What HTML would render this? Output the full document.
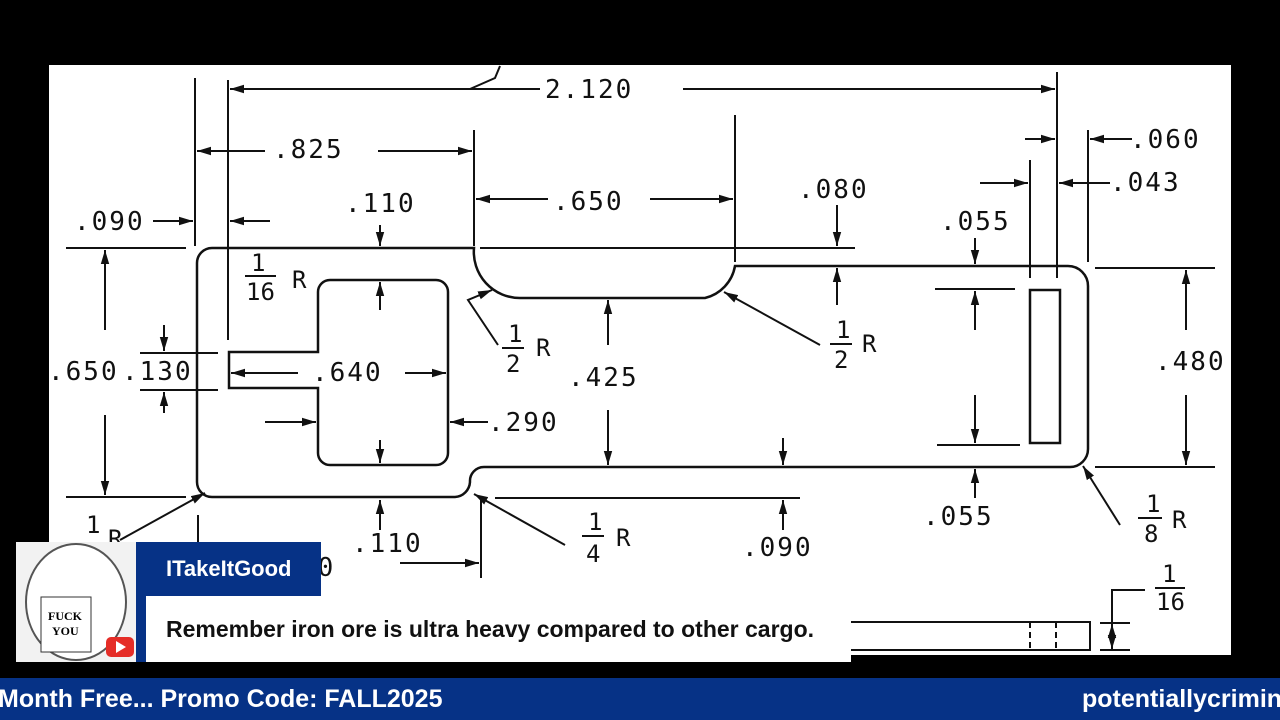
<!DOCTYPE html>
<html><head><meta charset="utf-8"><style>
html,body{margin:0;padding:0;background:#000;width:1280px;height:720px;overflow:hidden;position:relative;font-family:"Liberation Sans",sans-serif}
svg{position:absolute;left:0;top:0}
.t{font-family:"DejaVu Sans Mono","Liberation Mono",monospace;font-size:26px;fill:#111;letter-spacing:2px}
.f{font-family:"DejaVu Sans Mono","Liberation Mono",monospace;font-size:24px;fill:#111}
#bar{position:absolute;left:0;top:678px;width:1280px;height:42px;background:#063286;color:#fff;font-size:25px;font-weight:bold;line-height:42px;white-space:nowrap}
#avatar{position:absolute;left:16px;top:542px;width:120px;height:120px;background:#f2f2f2}
#name{position:absolute;left:136px;top:542px;width:185px;height:54px;background:#063286;color:#fff;font-size:22px;font-weight:bold;line-height:54px;text-indent:30px}
#blue2{position:absolute;left:136px;top:596px;width:10px;height:66px;background:#063286}
#msg{position:absolute;left:146px;top:596px;width:705px;height:66px;background:#fff;color:#111;font-size:23px;font-weight:bold;line-height:66px;text-indent:20px}
</style></head><body>
<svg width="1280" height="720" viewBox="0 0 1280 720">
<defs><marker id="a" viewBox="0 0 10 10" refX="10" refY="5" markerWidth="7" markerHeight="7" orient="auto-start-reverse"><path d="M0,2 L10,5 L0,8z" fill="#111"/></marker></defs>
<rect x="49" y="65" width="1182" height="590" fill="#fff"/>
<g stroke="#111" stroke-width="2.5" fill="none">
<path d="M212,248 L474,248 A46,46 0 0 0 520,298 L705,298 A40,40 0 0 0 735,266 L1068,266 A20,20 0 0 1 1088,286 L1088,449 A18,18 0 0 1 1070,467 L484,467 A14,14 0 0 0 470,482 A16,16 0 0 1 455,497 L212,497 A15,15 0 0 1 197,482 L197,263 A15,15 0 0 1 212,248 Z"/>
<path d="M330,280 L436,280 A12,12 0 0 1 448,292 L448,453 A12,12 0 0 1 436,465 L330,465 A12,12 0 0 1 318,453 L318,388 L229,388 L229,352 L318,352 L318,292 A12,12 0 0 1 330,280"/>
<rect x="1030" y="290" width="30" height="153"/>
</g>
<g stroke="#111" stroke-width="2" fill="none">
<line x1="195" y1="78" x2="195" y2="246"/><line x1="228" y1="80" x2="228" y2="340"/>
<line x1="474" y1="130" x2="474" y2="246"/><line x1="735" y1="115" x2="735" y2="262"/>
<line x1="1057" y1="72" x2="1057" y2="278"/><line x1="1030" y1="160" x2="1030" y2="278"/>
<line x1="1088" y1="130" x2="1088" y2="262"/>
<line x1="66" y1="248" x2="186" y2="248"/><line x1="66" y1="497" x2="186" y2="497"/>
<line x1="480" y1="248" x2="855" y2="248"/>
<line x1="495" y1="498" x2="800" y2="498"/>
<line x1="1095" y1="268" x2="1215" y2="268"/><line x1="1095" y1="467" x2="1215" y2="467"/>
<line x1="935" y1="289" x2="1015" y2="289"/><line x1="937" y1="445" x2="1020" y2="445"/>
<line x1="140" y1="353" x2="218" y2="353"/><line x1="140" y1="390" x2="218" y2="390"/>
<line x1="198" y1="515" x2="198" y2="545"/><line x1="481" y1="500" x2="481" y2="578"/>
<line x1="230" y1="89" x2="540" y2="89" marker-start="url(#a)"/><line x1="683" y1="89" x2="1055" y2="89" marker-end="url(#a)"/>
<path d="M470,89 L495,78 L500,66"/>
<line x1="197" y1="151" x2="265" y2="151" marker-start="url(#a)"/><line x1="378" y1="151" x2="472" y2="151" marker-end="url(#a)"/>
<line x1="476" y1="199" x2="548" y2="199" marker-start="url(#a)"/><line x1="650" y1="199" x2="733" y2="199" marker-end="url(#a)"/>
<line x1="153" y1="221" x2="193" y2="221" marker-end="url(#a)"/><line x1="270" y1="221" x2="230" y2="221" marker-end="url(#a)"/>
<line x1="380" y1="225" x2="380" y2="246" marker-end="url(#a)"/><line x1="380" y1="310" x2="380" y2="282" marker-end="url(#a)"/>
<line x1="380" y1="440" x2="380" y2="463" marker-end="url(#a)"/><line x1="380" y1="530" x2="380" y2="500" marker-end="url(#a)"/>
<line x1="105" y1="330" x2="105" y2="250" marker-end="url(#a)"/><line x1="105" y1="415" x2="105" y2="495" marker-end="url(#a)"/>
<line x1="164" y1="325" x2="164" y2="351" marker-end="url(#a)"/><line x1="164" y1="413" x2="164" y2="392" marker-end="url(#a)"/>
<line x1="298" y1="373" x2="231" y2="373" marker-end="url(#a)"/><line x1="405" y1="373" x2="446" y2="373" marker-end="url(#a)"/>
<line x1="265" y1="422" x2="316" y2="422" marker-end="url(#a)"/><line x1="488" y1="422" x2="450" y2="422" marker-end="url(#a)"/>
<line x1="608" y1="345" x2="608" y2="300" marker-end="url(#a)"/><line x1="608" y1="410" x2="608" y2="465" marker-end="url(#a)"/>
<line x1="783" y1="438" x2="783" y2="465" marker-end="url(#a)"/><line x1="783" y1="530" x2="783" y2="500" marker-end="url(#a)"/>
<line x1="837" y1="205" x2="837" y2="246" marker-end="url(#a)"/><line x1="837" y1="305" x2="837" y2="268" marker-end="url(#a)"/>
<path d="M498,345 L468,300 L492,290" marker-end="url(#a)"/>
<line x1="820" y1="345" x2="724" y2="292" marker-end="url(#a)"/>
<line x1="565" y1="545" x2="474" y2="494" marker-end="url(#a)"/>
<line x1="120" y1="540" x2="205" y2="493" marker-end="url(#a)"/>
<line x1="1120" y1="525" x2="1083" y2="466" marker-end="url(#a)"/>
<line x1="400" y1="563" x2="479" y2="563" marker-end="url(#a)"/>
<line x1="1025" y1="139" x2="1055" y2="139" marker-end="url(#a)"/><line x1="1132" y1="139" x2="1090" y2="139" marker-end="url(#a)"/>
<line x1="980" y1="183" x2="1028" y2="183" marker-end="url(#a)"/><line x1="1110" y1="183" x2="1059" y2="183" marker-end="url(#a)"/>
<line x1="975" y1="238" x2="975" y2="264" marker-end="url(#a)"/><line x1="975" y1="330" x2="975" y2="291" marker-end="url(#a)"/>
<line x1="975" y1="395" x2="975" y2="443" marker-end="url(#a)"/><line x1="975" y1="498" x2="975" y2="469" marker-end="url(#a)"/>
<line x1="1186" y1="330" x2="1186" y2="270" marker-end="url(#a)"/><line x1="1186" y1="395" x2="1186" y2="465" marker-end="url(#a)"/>
<path d="M851,622 L1090,622 L1090,650 L851,650"/>
<line x1="1030" y1="622" x2="1030" y2="650" stroke-dasharray="6,4"/><line x1="1056" y1="622" x2="1056" y2="650" stroke-dasharray="6,4"/>
<line x1="1100" y1="623" x2="1130" y2="623"/><line x1="1100" y1="650" x2="1130" y2="650"/>
<path d="M1112,640 L1112,590 L1145,590"/>
<line x1="1112" y1="630" x2="1112" y2="624" marker-end="url(#a)"/><line x1="1112" y1="642" x2="1112" y2="649" marker-end="url(#a)"/>
</g>
<g class="t">
<text x="545" y="98">2.120</text>
<text x="273" y="158">.825</text>
<text x="553" y="210">.650</text>
<text x="74" y="230">.090</text>
<text x="345" y="212">.110</text>
<text x="798" y="198">.080</text>
<text x="940" y="230">.055</text>
<text x="1130" y="148">.060</text>
<text x="1110" y="191">.043</text>
<text x="48" y="380">.650</text>
<text x="122" y="380">.130</text>
<text x="312" y="381">.640</text>
<text x="488" y="431">.290</text>
<text x="568" y="386">.425</text>
<text x="1155" y="370">.480</text>
<text x="923" y="525">.055</text>
<text x="742" y="556">.090</text>
<text x="352" y="552">.110</text>
<text x="300" y="576">00</text>
</g>
<g class="f">
<text x="251" y="271">1</text><line x1="245" y1="276" x2="276" y2="276" stroke="#111" stroke-width="2"/><text x="246" y="300">16</text><text x="292" y="288">R</text>
<text x="508" y="342">1</text><line x1="502" y1="348" x2="524" y2="348" stroke="#111" stroke-width="2"/><text x="506" y="372">2</text><text x="536" y="356">R</text>
<text x="836" y="338">1</text><line x1="830" y1="344" x2="852" y2="344" stroke="#111" stroke-width="2"/><text x="834" y="368">2</text><text x="862" y="352">R</text>
<text x="588" y="530">1</text><line x1="582" y1="536" x2="604" y2="536" stroke="#111" stroke-width="2"/><text x="586" y="562">4</text><text x="616" y="546">R</text>
<text x="1146" y="512">1</text><line x1="1138" y1="518" x2="1162" y2="518" stroke="#111" stroke-width="2"/><text x="1144" y="542">8</text><text x="1172" y="528">R</text>
<text x="1162" y="582">1</text><line x1="1155" y1="588" x2="1185" y2="588" stroke="#111" stroke-width="2"/><text x="1156" y="610">16</text>
<text x="86" y="533">1</text><text x="108" y="547">R</text>
</g>
</svg>
<div id="avatar"><svg width="120" height="120"><ellipse cx="60" cy="60" rx="50" ry="58" fill="#fff" stroke="#555" stroke-width="2"/><rect x="25" y="55" width="50" height="55" fill="#fff" stroke="#333"/><text x="32" y="78" font-family="Liberation Serif" font-weight="bold" font-size="12">FUCK</text><text x="36" y="93" font-family="Liberation Serif" font-weight="bold" font-size="12">YOU</text><rect x="90" y="95" width="28" height="20" rx="5" fill="#e52d27"/><path d="M100,99 L110,105 L100,111z" fill="#fff"/></svg></div>
<div id="name">ITakeItGood</div>
<div id="blue2"></div>
<div id="msg">Remember iron ore is ultra heavy compared to other cargo.</div>
<div id="bar"><span style="position:absolute;left:-2px">Month Free... Promo Code: FALL2025</span><span style="position:absolute;left:1082px">potentiallycriminal</span></div>
</body></html>
